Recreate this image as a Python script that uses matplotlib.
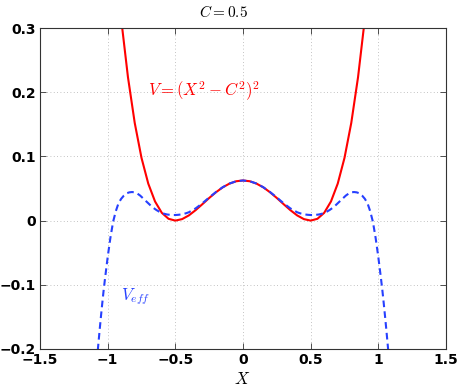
import matplotlib
matplotlib.use("Agg")
from matplotlib import pyplot as plt

plt.rcParams['mathtext.fontset'] = 'cm'
plt.rcParams['font.family'] = ['DejaVu Sans']

# V = (X^2 - C^2)^2, C = 0.5
x_v = [-0.95, -0.90, -0.85, -0.80, -0.75, -0.70, -0.65, -0.60, -0.55, -0.50,
       -0.45, -0.40, -0.35, -0.30, -0.25, -0.20, -0.15, -0.10, -0.05, 0.00,
       0.05, 0.10, 0.15, 0.20, 0.25, 0.30, 0.35, 0.40, 0.45, 0.50,
       0.55, 0.60, 0.65, 0.70, 0.75, 0.80, 0.85, 0.90, 0.95]
v = [0.4258, 0.3136, 0.2233, 0.1521, 0.0977, 0.0576, 0.0298, 0.0121, 0.0028, 0.0,
     0.0023, 0.0081, 0.0163, 0.0256, 0.0352, 0.0441, 0.0518, 0.0576, 0.0613, 0.0625,
     0.0613, 0.0576, 0.0518, 0.0441, 0.0352, 0.0256, 0.0163, 0.0081, 0.0023, 0.0,
     0.0028, 0.0121, 0.0298, 0.0576, 0.0977, 0.1521, 0.2233, 0.3136, 0.4258]

# V_eff (dashed blue)
x_eff = [-1.08, -1.07, -1.06, -1.05, -1.04, -1.03, -1.02, -1.00, -0.98, -0.96,
         -0.94, -0.92, -0.90, -0.88, -0.86, -0.84, -0.82, -0.80, -0.78, -0.76,
         -0.74, -0.72, -0.70, -0.68, -0.66, -0.64, -0.62, -0.60, -0.58, -0.56,
         -0.54, -0.52, -0.50, -0.48, -0.46, -0.44, -0.42, -0.40, -0.35, -0.30,
         -0.25, -0.20, -0.15, -0.10, -0.05, 0.00,
         0.05, 0.10, 0.15, 0.20, 0.25, 0.30, 0.35, 0.40, 0.42, 0.44,
         0.46, 0.48, 0.50, 0.52, 0.54, 0.56, 0.58, 0.60, 0.62, 0.64,
         0.66, 0.68, 0.70, 0.72, 0.74, 0.76, 0.78, 0.80, 0.82, 0.84,
         0.86, 0.88, 0.90, 0.92, 0.94, 0.96, 0.98, 1.00, 1.02, 1.03,
         1.04, 1.05, 1.06, 1.07, 1.08]
v_eff = [-0.219, -0.195, -0.172, -0.150, -0.129, -0.109, -0.091, -0.057, -0.027, -0.002,
         0.0145, 0.027, 0.034, 0.039, 0.0425, 0.0440, 0.0445, 0.0440, 0.042, 0.039,
         0.035, 0.031, 0.027, 0.023, 0.0195, 0.0165, 0.0140, 0.0120, 0.0105, 0.0095,
         0.0090, 0.0087, 0.0087, 0.0090, 0.0095, 0.0103, 0.0115, 0.0130, 0.019, 0.027,
         0.036, 0.0445, 0.052, 0.0577, 0.0613, 0.0625,
         0.0613, 0.0577, 0.052, 0.0445, 0.036, 0.027, 0.019, 0.0130, 0.0115, 0.0103,
         0.0095, 0.0090, 0.0087, 0.0087, 0.0090, 0.0095, 0.0105, 0.0120, 0.0140, 0.0165,
         0.0195, 0.023, 0.027, 0.031, 0.035, 0.039, 0.042, 0.0440, 0.0445, 0.0440,
         0.0425, 0.039, 0.034, 0.027, 0.0145, -0.002, -0.027, -0.057, -0.091, -0.109,
         -0.129, -0.150, -0.172, -0.195, -0.219]

xticks = [-1.5, -1, -0.5, 0, 0.5, 1, 1.5]
xticklabels = ['\u22121.5', '\u22121', '\u22120.5', '0', '0.5', '1', '1.5']
yticks = [-0.2, -0.1, 0, 0.1, 0.2, 0.3]
yticklabels = ['\u22120.2', '\u22120.1', '0', '0.1', '0.2', '0.3']

blue = (0.15, 0.25, 1.0)

fig = plt.figure(figsize=(4.63, 3.89), dpi=100)
ax = fig.add_axes([40/463, 40/389, 406/463, 321/389])

ax.plot(x_v, v, color='r', lw=1.5)
ax.plot(x_eff, v_eff, color=blue, lw=1.5, dashes=(3.2, 2.0))

ax.set_xlim(-1.5, 1.5)
ax.set_ylim(-0.2, 0.3)
ax.set_xticks(xticks)
ax.set_xticklabels(xticklabels, fontweight='bold', fontsize=10)
ax.set_yticks(yticks)
ax.set_yticklabels(yticklabels, fontweight='bold', fontsize=10)
ax.tick_params(direction='in', length=4, width=0.6, pad=3,
               top=True, right=True, colors='#333333', labelcolor='black')
ax.grid(True, linestyle=(0, (1, 3)), color='#b0b0b0', lw=0.6)
for s in ax.spines.values():
    s.set_color('#333333')
    s.set_linewidth(0.8)

ax.text(-0.70, 0.194, r'$V=(X^2-C^2)^2$', color='r', fontsize=12,
        ha='left', va='baseline')
ax.text(-0.90, -0.124, r'$V_{eff}$', color=blue, fontsize=12,
        ha='left', va='baseline')

fig.text(223/463, 1 - 12/389, r'$C=0.5$', fontsize=11, ha='center', va='center')
fig.text(242/463, 1 - 379/389, r'$X$', fontsize=12, ha='center', va='center')

fig.savefig('out.png', dpi=100)
